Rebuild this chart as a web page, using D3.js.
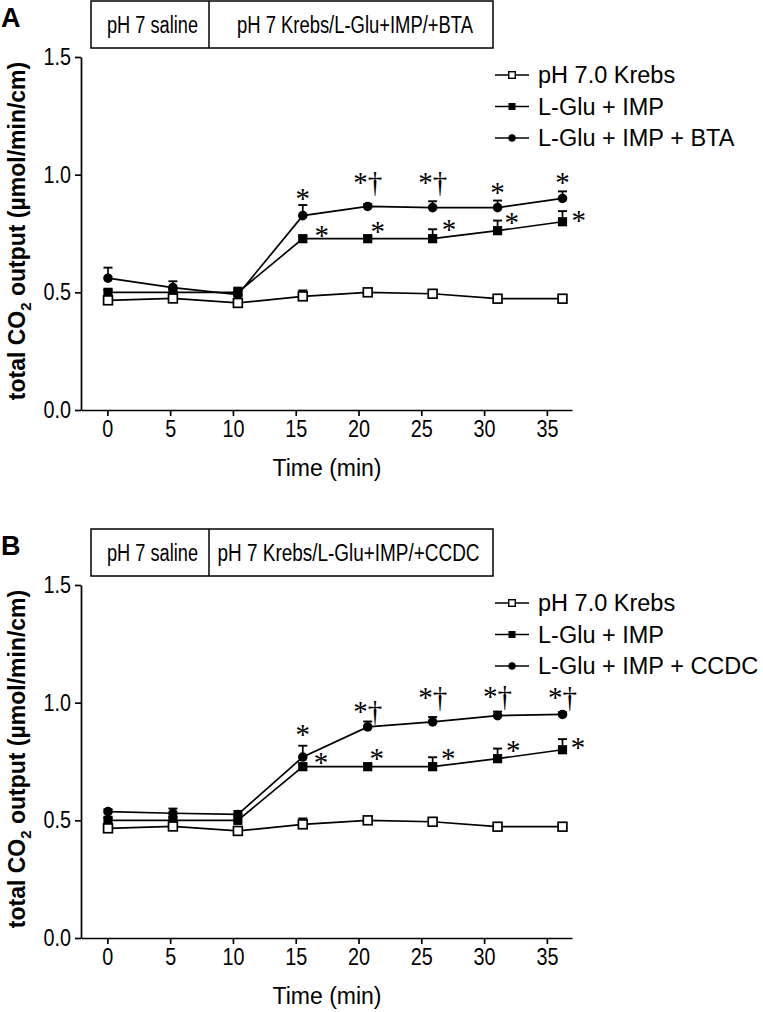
<!DOCTYPE html>
<html>
<head>
<meta charset="utf-8">
<script src="https://cdn.jsdelivr.net/npm/d3@7/dist/d3.min.js"></script>
<style>
  html, body { margin: 0; padding: 0; background: #fff; }
  svg { display: block; }
  text { font-family: "Liberation Sans", Arial, sans-serif; fill: #000; }
</style>
</head>
<body>
<div id="chart"></div>
<script>
// ---------- data ----------
const times = [0, 5, 10, 15, 20, 25, 30, 35];
const xTickLabels = ["0", "5", "10", "15", "20", "25", "30", "35"];
const yTickValues = [0.0, 0.5, 1.0, 1.5];

const krebs      = [0.466, 0.474, 0.455, 0.483, 0.500, 0.494, 0.473, 0.473];
const krebsErr   = [0.010, 0.010, 0.010, 0.025, 0.010, 0.010, 0.010, 0.010];
const gluImp     = [0.500, 0.500, 0.500, 0.728, 0.728, 0.728, 0.762, 0.800];
const gluImpErr  = [0.010, 0.015, 0.020, 0.010, 0.010, 0.040, 0.043, 0.045];
const gluImpBta    = [0.560, 0.520, 0.490, 0.826, 0.865, 0.860, 0.860, 0.899];
const gluImpBtaErr = [0.045, 0.027, 0.015, 0.045, 0.010, 0.027, 0.030, 0.030];
const gluImpCcdc    = [0.537, 0.530, 0.525, 0.769, 0.897, 0.918, 0.945, 0.950];
const gluImpCcdcErr = [0.010, 0.020, 0.015, 0.048, 0.023, 0.021, 0.017, 0.010];

const seriesNames = ["pH 7.0 Krebs", "L-Glu + IMP"];
const panelLabels = ["A", "B"];
const boxLeftLabels = ["pH 7 saline", "pH 7 saline"];
const boxRightLabels = ["pH 7 Krebs/L-Glu+IMP/+BTA", "pH 7 Krebs/L-Glu+IMP/+CCDC"];
const thirdSeriesNames = ["L-Glu + IMP + BTA", "L-Glu + IMP + CCDC"];

// significance marks (time, level in y units, label)
const annotACircleT = [15, 20, 25, 30, 35];
const annotACircleY = [0.922, 0.990, 0.990, 0.948, 0.990];
const annotACircleL = ["*", "*\u2020", "*\u2020", "*", "*"];
const annotASquareT = [16.46, 20.78, 26.25, 31.10, 36.26];
const annotASquareY = [0.765, 0.782, 0.790, 0.820, 0.829];
const annotBCircleT = [15, 20, 25, 30, 35];
const annotBCircleY = [0.890, 0.984, 1.044, 1.048, 1.044];
const annotBCircleL = ["*", "*\u2020", "*\u2020", "*\u2020", "*\u2020"];
const annotBSquareT = [16.40, 20.70, 26.20, 31.20, 36.20];
const annotBSquareY = [0.771, 0.784, 0.784, 0.822, 0.831];

// ---------- drawing ----------
const W = 763, H = 1012;
const svg = d3.select("#chart").append("svg").attr("width", W).attr("height", H);

const panels = [
  { dy: 0, third: gluImpBta, thirdErr: gluImpBtaErr, rightCx: 355, rightLen: 236,
    cT: annotACircleT, cY: annotACircleY, cL: annotACircleL, sT: annotASquareT, sY: annotASquareY },
  { dy: 528, third: gluImpCcdc, thirdErr: gluImpCcdcErr, rightCx: 348.5, rightLen: 262,
    cT: annotBCircleT, cY: annotBCircleY, cL: annotBCircleL, sT: annotBSquareT, sY: annotBSquareY }
];

const condense = 0.86;

panels.forEach((p, pi) => {
  const g = svg.append("g").attr("transform", `translate(0,${p.dy})`);

  // axis scale (ticks) and point scale (the original figure offsets the points slightly)
  const x = d3.scaleLinear().domain([-2.1, 37.0]).range([81, 572]);
  const xp = d3.scaleLinear().domain([0, 35]).range([108, 562.5]);
  const y = d3.scaleLinear().domain([0, 1.5]).range([410, 57]);

  // panel letter
  g.append("text").attr("x", 1).attr("y", 27)
    .style("font-size", "27px").style("font-weight", "bold").text(panelLabels[pi]);

  // header box
  const bx0 = 91, bx1 = 209, bx2 = 493, by0 = 1, by1 = 48;
  g.append("rect").attr("x", bx0).attr("y", by0).attr("width", bx2 - bx0).attr("height", by1 - by0)
    .attr("fill", "none").attr("stroke", "#000").attr("stroke-width", 1.5);
  g.append("line").attr("x1", bx1).attr("x2", bx1).attr("y1", by0).attr("y2", by1)
    .attr("stroke", "#000").attr("stroke-width", 1.5);
  g.append("text").attr("x", 152.5 - 45.5).attr("y", 33)
    .attr("textLength", 91).attr("lengthAdjust", "spacingAndGlyphs")
    .style("font-size", "23px").text(boxLeftLabels[pi]);
  g.append("text").attr("x", p.rightCx - p.rightLen / 2).attr("y", 33)
    .attr("textLength", p.rightLen).attr("lengthAdjust", "spacingAndGlyphs")
    .style("font-size", "23px").text(boxRightLabels[pi]);

  // axes
  const xAxis = d3.axisBottom(x).tickValues(times).tickFormat((d, i) => xTickLabels[i])
    .tickSize(6).tickSizeOuter(0).tickPadding(5);
  const gx = g.append("g").attr("transform", `translate(0,${y(0)})`).call(xAxis);
  gx.select(".domain").attr("stroke-width", 1.7);
  gx.selectAll(".tick line").attr("stroke-width", 1.7);
  gx.selectAll("text").style("font-size", "23px").style("font-family", "Liberation Sans, Arial, sans-serif")
    .attr("transform", `scale(${condense},1)`);

  const yAxis = d3.axisLeft(y).tickValues(yTickValues).tickFormat(d3.format(".1f"))
    .tickSize(6).tickSizeOuter(0).tickPadding(4);
  const gy = g.append("g").attr("transform", `translate(${x(-2.1)},0)`).call(yAxis);
  gy.select(".domain").attr("stroke-width", 1.7);
  gy.selectAll(".tick line").attr("stroke-width", 1.7);
  gy.selectAll("text").style("font-size", "23px").style("font-family", "Liberation Sans, Arial, sans-serif")
    .attr("transform", `scale(${condense},1)`).attr("x", -10 / condense);

  // axis titles
  g.append("text").attr("x", 327).attr("y", 476).attr("text-anchor", "middle")
    .style("font-size", "23px").text("Time (min)");
  const yt = g.append("text").attr("transform", "translate(25,231) rotate(-90)")
    .attr("text-anchor", "middle").style("font-size", "23px").style("font-weight", "bold");
  yt.append("tspan").text("total CO");
  yt.append("tspan").attr("dy", 6).style("font-size", "15px").text("2");
  yt.append("tspan").attr("dy", -6).text(" output (\u00b5mol/min/cm)");

  const series = [
    { v: krebs, e: krebsErr, shape: "openSquare" },
    { v: gluImp, e: gluImpErr, shape: "square" },
    { v: p.third, e: p.thirdErr, shape: "circle" }
  ];

  const line = d3.line().x((d, i) => xp(times[i])).y(d => y(d));

  // draw order: circle series, filled squares, open squares on top
  [2, 1, 0].forEach(si => {
    const s = series[si];
    const sg = g.append("g");
    s.v.forEach((v, i) => {
      const cx = xp(times[i]);
      sg.append("line").attr("x1", cx).attr("x2", cx).attr("y1", y(v)).attr("y2", y(v + s.e[i]))
        .attr("stroke", "#000").attr("stroke-width", 1.7);
      sg.append("line").attr("x1", cx - 4.5).attr("x2", cx + 4.5).attr("y1", y(v + s.e[i])).attr("y2", y(v + s.e[i]))
        .attr("stroke", "#000").attr("stroke-width", 1.9);
    });
    sg.append("path").datum(s.v).attr("d", line).attr("fill", "none")
      .attr("stroke", "#000").attr("stroke-width", 1.7);
    s.v.forEach((v, i) => {
      const cx = xp(times[i]), cy = y(v);
      if (s.shape === "circle") {
        sg.append("circle").attr("cx", cx).attr("cy", cy).attr("r", 4.8).attr("fill", "#000");
      } else if (s.shape === "square") {
        sg.append("rect").attr("x", cx - 4.6).attr("y", cy - 4.6).attr("width", 9.2).attr("height", 9.2).attr("fill", "#000");
      } else {
        sg.append("rect").attr("x", cx - 4.4).attr("y", cy - 4.4).attr("width", 8.8).attr("height", 8.8)
          .attr("fill", "#fff").attr("stroke", "#000").attr("stroke-width", 1.7);
      }
    });
  });

  // significance marks
  const serif = "'Liberation Serif', 'Times New Roman', Times, serif";
  p.cT.forEach((t, i) => {
    g.append("text").attr("x", xp(t)).attr("y", y(p.cY[i]) + 15).attr("text-anchor", "middle")
      .attr("fill", "#000").style("font-family", serif).style("font-size", "29px").text(p.cL[i]);
  });
  p.sT.forEach((t, i) => {
    g.append("text").attr("x", xp(t)).attr("y", y(p.sY[i]) + 15).attr("text-anchor", "middle")
      .attr("fill", "#000").style("font-family", serif).style("font-size", "29px").text("*");
  });

  // legend
  const legNames = [seriesNames[0], seriesNames[1], thirdSeriesNames[pi]];
  const shapes = ["openSquare", "square", "circle"];
  legNames.forEach((name, i) => {
    const ly = 75 + i * 31.5;
    g.append("line").attr("x1", 495).attr("x2", 529).attr("y1", ly).attr("y2", ly)
      .attr("stroke", "#000").attr("stroke-width", 1.7);
    if (shapes[i] === "circle") {
      g.append("circle").attr("cx", 512).attr("cy", ly).attr("r", 3.7).attr("fill", "#000");
    } else if (shapes[i] === "square") {
      g.append("rect").attr("x", 508.5).attr("y", ly - 3.5).attr("width", 7).attr("height", 7).attr("fill", "#000");
    } else {
      g.append("rect").attr("x", 508.7).attr("y", ly - 3.3).attr("width", 6.6).attr("height", 6.6)
        .attr("fill", "#fff").attr("stroke", "#000").attr("stroke-width", 1.4);
    }
    g.append("text").attr("x", 538).attr("y", ly + 8).style("font-size", "23.5px").text(name);
  });
});
</script>
</body>
</html>
